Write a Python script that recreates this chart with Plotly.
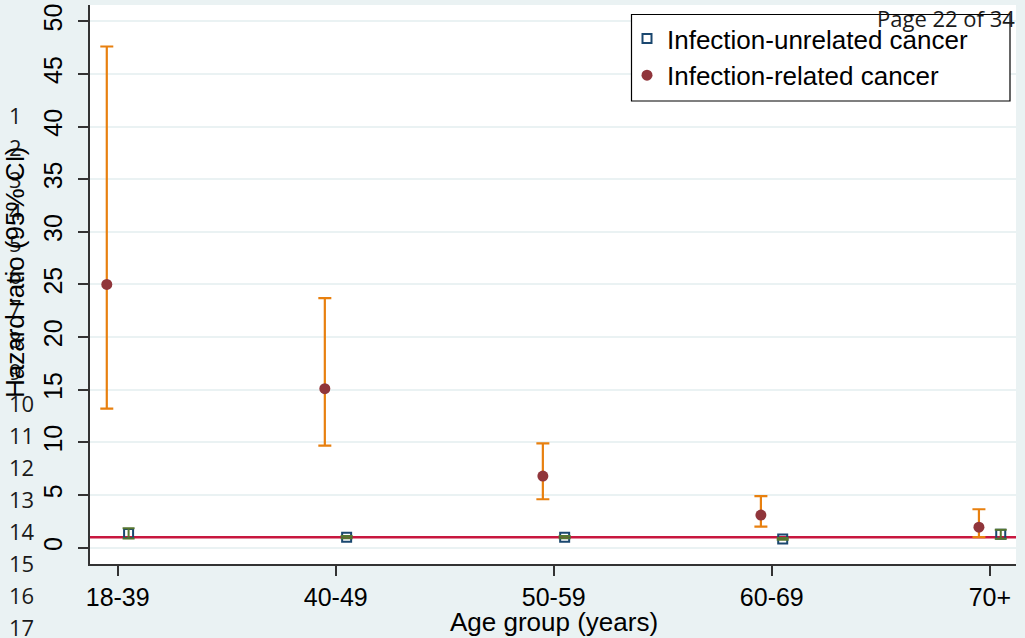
import plotly.graph_objects as go

# ---- data ----
age_groups = ["18-39", "40-49", "50-59", "60-69", "70+"]

related_hr = [25.0, 15.1, 6.8, 3.1, 1.95]
related_lo = [13.2, 9.7, 4.6, 2.0, 1.0]
related_hi = [47.6, 23.7, 9.9, 4.9, 3.65]

unrelated_hr = [1.35, 1.0, 1.0, 0.83, 1.28]
unrelated_lo = [0.88, 0.9, 0.9, 0.75, 0.85]
unrelated_hi = [1.85, 1.1, 1.1, 0.92, 1.7]

y_ticks = [0, 5, 10, 15, 20, 25, 30, 35, 40, 45, 50]
line_numbers = ["1", "2", "3", "4", "5", "6", "7", "8", "9", "10",
                "11", "12", "13", "14", "15", "16", "17"]
REF_HR = 1
page_label = "Page 22 of 34"

# ---- style ----
W, H = 1025, 638
ML, MR, MT, MB = 90, 9, 5, 74
PW, PH = W - ML - MR, H - MT - MB
OFFSET = 0.05
BG = "#eaf2f3"
ORANGE = "#e8800f"
CRANBERRY = "#90353b"
NAVY = "#1a476f"
GREEN = "#55752f"
REDLINE = "#c8173f"
AXIS = "#333333"
FONT = "Liberation Sans"


def px(x):
    return (x - ML) / PW


def py(y):
    return (H - MB - y) / PH


idx = list(range(len(age_groups)))
x_rel = [i - OFFSET for i in idx]
x_unr = [i + OFFSET for i in idx]

fig = go.Figure()

# infection-unrelated: squares then green CI caps on top
fig.add_trace(go.Scatter(
    x=x_unr, y=unrelated_hr, mode="markers",
    name="Infection-unrelated cancer", legendgroup="a",
    marker=dict(symbol="square-open", size=9, color=NAVY, line=dict(width=2, color=NAVY)),
))
fig.add_trace(go.Scatter(
    x=x_unr, y=unrelated_hr, mode="markers", showlegend=False,
    marker=dict(size=1, color="rgba(0,0,0,0)"),
    error_y=dict(type="data", symmetric=False,
                 array=[h - v for h, v in zip(unrelated_hi, unrelated_hr)],
                 arrayminus=[v - l for v, l in zip(unrelated_hr, unrelated_lo)],
                 color=GREEN, thickness=2, width=6),
))

# infection-related: orange CI with cranberry dot
fig.add_trace(go.Scatter(
    x=x_rel, y=related_hr, mode="markers",
    name="Infection-related cancer", legendgroup="b",
    marker=dict(symbol="circle", size=11, color=CRANBERRY),
    error_y=dict(type="data", symmetric=False,
                 array=[h - v for h, v in zip(related_hi, related_hr)],
                 arrayminus=[v - l for v, l in zip(related_hr, related_lo)],
                 color=ORANGE, thickness=2.2, width=6.5),
))

# reference line at HR = 1
fig.add_shape(type="line", xref="paper", yref="y", x0=0, x1=1, y0=REF_HR, y1=REF_HR,
              line=dict(color=REDLINE, width=2.5), layer="below")

# legend box
fig.add_shape(type="rect", xref="paper", yref="paper",
              x0=px(631.5), x1=px(1010), y0=py(101), y1=py(14.5),
              fillcolor="white", line=dict(color="black", width=1.2), layer="above")

annotations = []
for i, ln in enumerate(line_numbers):
    annotations.append(dict(
        x=px(7), y=py(115 + 32 * i), xref="paper", yref="paper",
        text=ln, showarrow=False, xanchor="left", yanchor="middle",
        font=dict(family="Open Sans", size=22, color="#1a1a1a")))

annotations.append(dict(
    x=px(15), y=py(273), xref="paper", yref="paper",
    text="Hazard ratio (95% CI)", showarrow=False, textangle=-90,
    xanchor="center", yanchor="middle",
    font=dict(family=FONT, size=26, color="black")))
annotations.append(dict(
    x=px(554), y=py(622), xref="paper", yref="paper",
    text="Age group (years)", showarrow=False,
    xanchor="center", yanchor="middle",
    font=dict(family=FONT, size=26, color="black")))
annotations.append(dict(
    x=px(1017), y=py(18), xref="paper", yref="paper",
    text=page_label, showarrow=False,
    xanchor="right", yanchor="middle",
    font=dict(family="Open Sans", size=22, color="#1a1a1a")))

fig.update_layout(
    width=W, height=H,
    margin=dict(l=ML, r=MR, t=MT, b=MB, pad=0, autoexpand=False),
    paper_bgcolor=BG, plot_bgcolor="white",
    showlegend=True,
    legend=dict(x=px(627), y=py(15), xanchor="left", yanchor="top",
                bgcolor="rgba(0,0,0,0)", borderwidth=0,
                traceorder="grouped", tracegroupgap=0,
                font=dict(family=FONT, size=26, color="black")),
    annotations=annotations,
    font=dict(family=FONT, color="black"),
)

fig.update_xaxes(
    range=[-0.127, 4.12], tickmode="array", tickvals=idx, ticktext=age_groups,
    showgrid=False, zeroline=False, automargin=False,
    showline=True, linecolor=AXIS, linewidth=2,
    ticks="outside", ticklen=10, tickwidth=2, tickcolor=AXIS,
    tickfont=dict(family=FONT, size=25, color="black"),
)
fig.update_yaxes(
    range=[-1.55, 51.54], tickmode="array", tickvals=y_ticks,
    ticktext=[str(t) for t in y_ticks], tickangle=-90,
    showgrid=True, gridcolor=BG, gridwidth=2, zeroline=False, automargin=False,
    showline=True, linecolor=AXIS, linewidth=2,
    ticks="outside", ticklen=10, tickwidth=2, tickcolor=AXIS, ticklabelstandoff=6,
    tickfont=dict(family=FONT, size=25, color="black"),
)

fig.write_html("out.html", config={"displayModeBar": False},
               post_script="document.body.style.margin='0';document.body.style.overflow='hidden';")
